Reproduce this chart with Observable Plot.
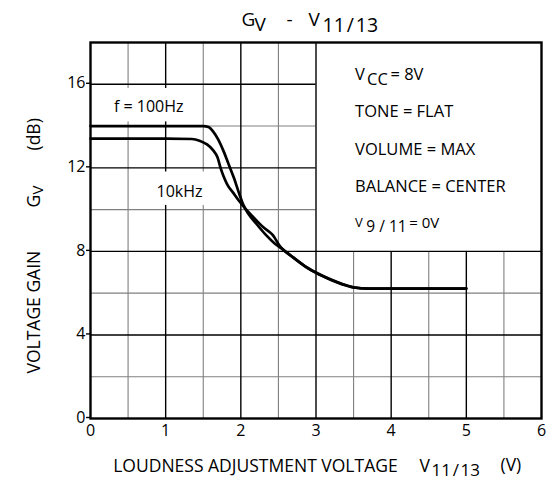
<!DOCTYPE html>
<html><head><meta charset="utf-8">
<script src="https://cdn.jsdelivr.net/npm/d3@7"></script>
<script src="https://cdn.jsdelivr.net/npm/@observablehq/plot@0.6"></script>
<style>body{margin:0;background:#fff} svg{display:block}</style>
</head><body><div id="chart"></div>
<script>
// Tick labels
const xTicks = [0, 1, 2, 3, 4, 5, 6];
const yTicks = [0, 4, 8, 12, 16];
// Grid lines (V and dB)
const majorX = [1, 2, 3, 4, 5];
const minorX = [0.5, 1.5, 2.5, 3.5, 4.5, 5.5];
const majorY = [4, 8, 12, 16];
const minorY = [2, 6, 10, 14];
// Series: [V11/13 (V), Gv (dB)]
const curve100Hz = [[0,14.0],[0.5,14.0],[1.0,14.0],[1.5,14.0],[1.57,13.95],[1.63,13.75],[1.7,13.35],[1.77,12.8],[1.84,12.15],[1.91,11.5],[1.97,10.85],[2.03,10.25],[2.1,9.8],[2.2,9.35],[2.33,8.8],[2.45,8.38],[2.55,8.12],[2.7,7.7],[2.85,7.3],[3.0,6.97],[3.2,6.63],[3.35,6.42],[3.5,6.27],[3.7,6.22],[4.0,6.22],[4.5,6.22],[5.0,6.22]];
const curve10kHz = [[0,13.4],[0.5,13.4],[1.0,13.4],[1.35,13.38],[1.45,13.3],[1.55,13.12],[1.63,12.85],[1.69,12.5],[1.73,12.0],[1.77,11.6],[1.82,11.2],[1.9,10.8],[1.98,10.4],[2.06,10.05],[2.15,9.7],[2.3,9.15],[2.42,8.8],[2.53,8.2],[2.7,7.7],[2.85,7.3],[3.0,6.99],[3.2,6.65],[3.35,6.44],[3.5,6.28],[3.7,6.22],[4.0,6.22],[5.0,6.22]];
const seriesLabels = ["f = 100Hz", "10kHz"];
const conditions = ["TONE = FLAT", "VOLUME = MAX", "BALANCE = CENTER"];

const FONT = "Open Sans";
const ML = 90, MT = 42;
const HS = "\u200A"; // hair space
// text placed in page pixels (outside plot frame)
const px = (str, x, y, size, extra = {}) => Plot.text([str], {
  frameAnchor: "top-left", dx: x - ML, dy: y - MT, text: d => d,
  textAnchor: "start", lineAnchor: "bottom", fontSize: size, fill: "#000", ...extra
});
// text placed in data coordinates
const dt = (str, x, y, size, extra = {}) => Plot.text([{x, y, t: str}], {
  x: "x", y: "y", text: "t", textAnchor: "start", lineAnchor: "bottom",
  fontSize: size, fill: "#000", ...extra
});

const chart = Plot.plot({
  width: 554, height: 482,
  marginLeft: ML, marginRight: 13, marginTop: MT, marginBottom: 64,
  x: {domain: [0, 6]},
  y: {domain: [0, 18]},
  style: {fontFamily: FONT, background: "#fff", color: "#000"},
  marks: [
    // grid
    Plot.ruleX(minorX, {x: d => d, y1: 0, y2: d => d > 3 ? 8 : 18, stroke: "#808080", strokeWidth: 1.1}),
    Plot.ruleY(minorY, {y: d => d, x1: 0, x2: d => d > 8 ? 3 : 6, stroke: "#808080", strokeWidth: 1.1}),
    Plot.ruleX(majorX, {x: d => d, y1: 0, y2: d => d > 3 ? 8 : 18, stroke: "#000", strokeWidth: 1.4}),
    Plot.ruleY(majorY, {y: d => d, x1: 0, x2: d => d > 8 ? 3 : 6, stroke: "#000", strokeWidth: 1.4}),
    // white label backgrounds
    Plot.rect([{a: 0.03, b: 1.47, c: 14.2, d: 15.8}, {a: 0.55, b: 1.72, c: 10.2, d: 11.8}],
      {x1: "a", x2: "b", y1: "c", y2: "d", fill: "#fff"}),
    Plot.frame({stroke: "#000", strokeWidth: 2.4}),
    // axes
    Plot.axisY({ticks: yTicks, tickSize: 4, tickPadding: 1, fontSize: 16, label: null, strokeWidth: 1.4, dy: -1}),
    Plot.axisX({ticks: xTicks, tickFormat: d => String(d), tickSize: 0, tickPadding: 6, fontSize: 16, label: null}),
    // curves
    Plot.line(curve100Hz, {x: d => d[0], y: d => d[1], stroke: "#000", strokeWidth: 2.7, curve: "monotone-x"}),
    Plot.line(curve10kHz, {x: d => d[0], y: d => d[1], stroke: "#000", strokeWidth: 2.7, curve: "monotone-x"}),
    // curve labels
    dt(seriesLabels[0], 0.775, 14.67, 16, {textAnchor: "middle"}),
    dt(seriesLabels[1], 1.185, 10.62, 16, {textAnchor: "middle"}),
    // conditions box
    dt("V", 3.52, 16.19, 16.5),
    dt("CC", 3.68, 15.95, 16.5),
    dt("= 8V", 3.99, 16.19, 16.5),
    dt(conditions[0], 3.52, 14.41, 16.5),
    dt(conditions[1], 3.52, 12.62, 16.5),
    dt(conditions[2], 3.52, 10.86, 16.5),
    dt("V", 3.52, 9.19, 13),
    dt("9 / 11", 3.67, 8.95, 15.5),
    dt("= 0V", 4.24, 9.11, 15),
    // title
    px("G", 241, 25.5, 19),
    px("V", 254, 30.5, 19),
    px("-", 286, 25.5, 19),
    px("V", 308, 25.5, 19),
    px(`11${HS}/${HS}13`, 322, 31, 19.5),
    // x label
    px("LOUDNESS ADJUSTMENT VOLTAGE", 112.7, 471.5, 17.5),
    px("V", 419, 471.5, 17.5),
    px(`11${HS}/${HS}13`, 431, 475, 17),
    px("(V)", 500, 470.5, 17.5),
    // y label (rotated)
    px("VOLTAGE GAIN", 39, 373, 17.5, {rotate: -90}),
    px("G", 39, 207, 17.5, {rotate: -90}),
    px("V", 42, 194, 15, {rotate: -90}),
    px("(dB)", 39, 150, 17.5, {rotate: -90})
  ]
});
document.getElementById("chart").appendChild(chart);
</script>
</body></html>
